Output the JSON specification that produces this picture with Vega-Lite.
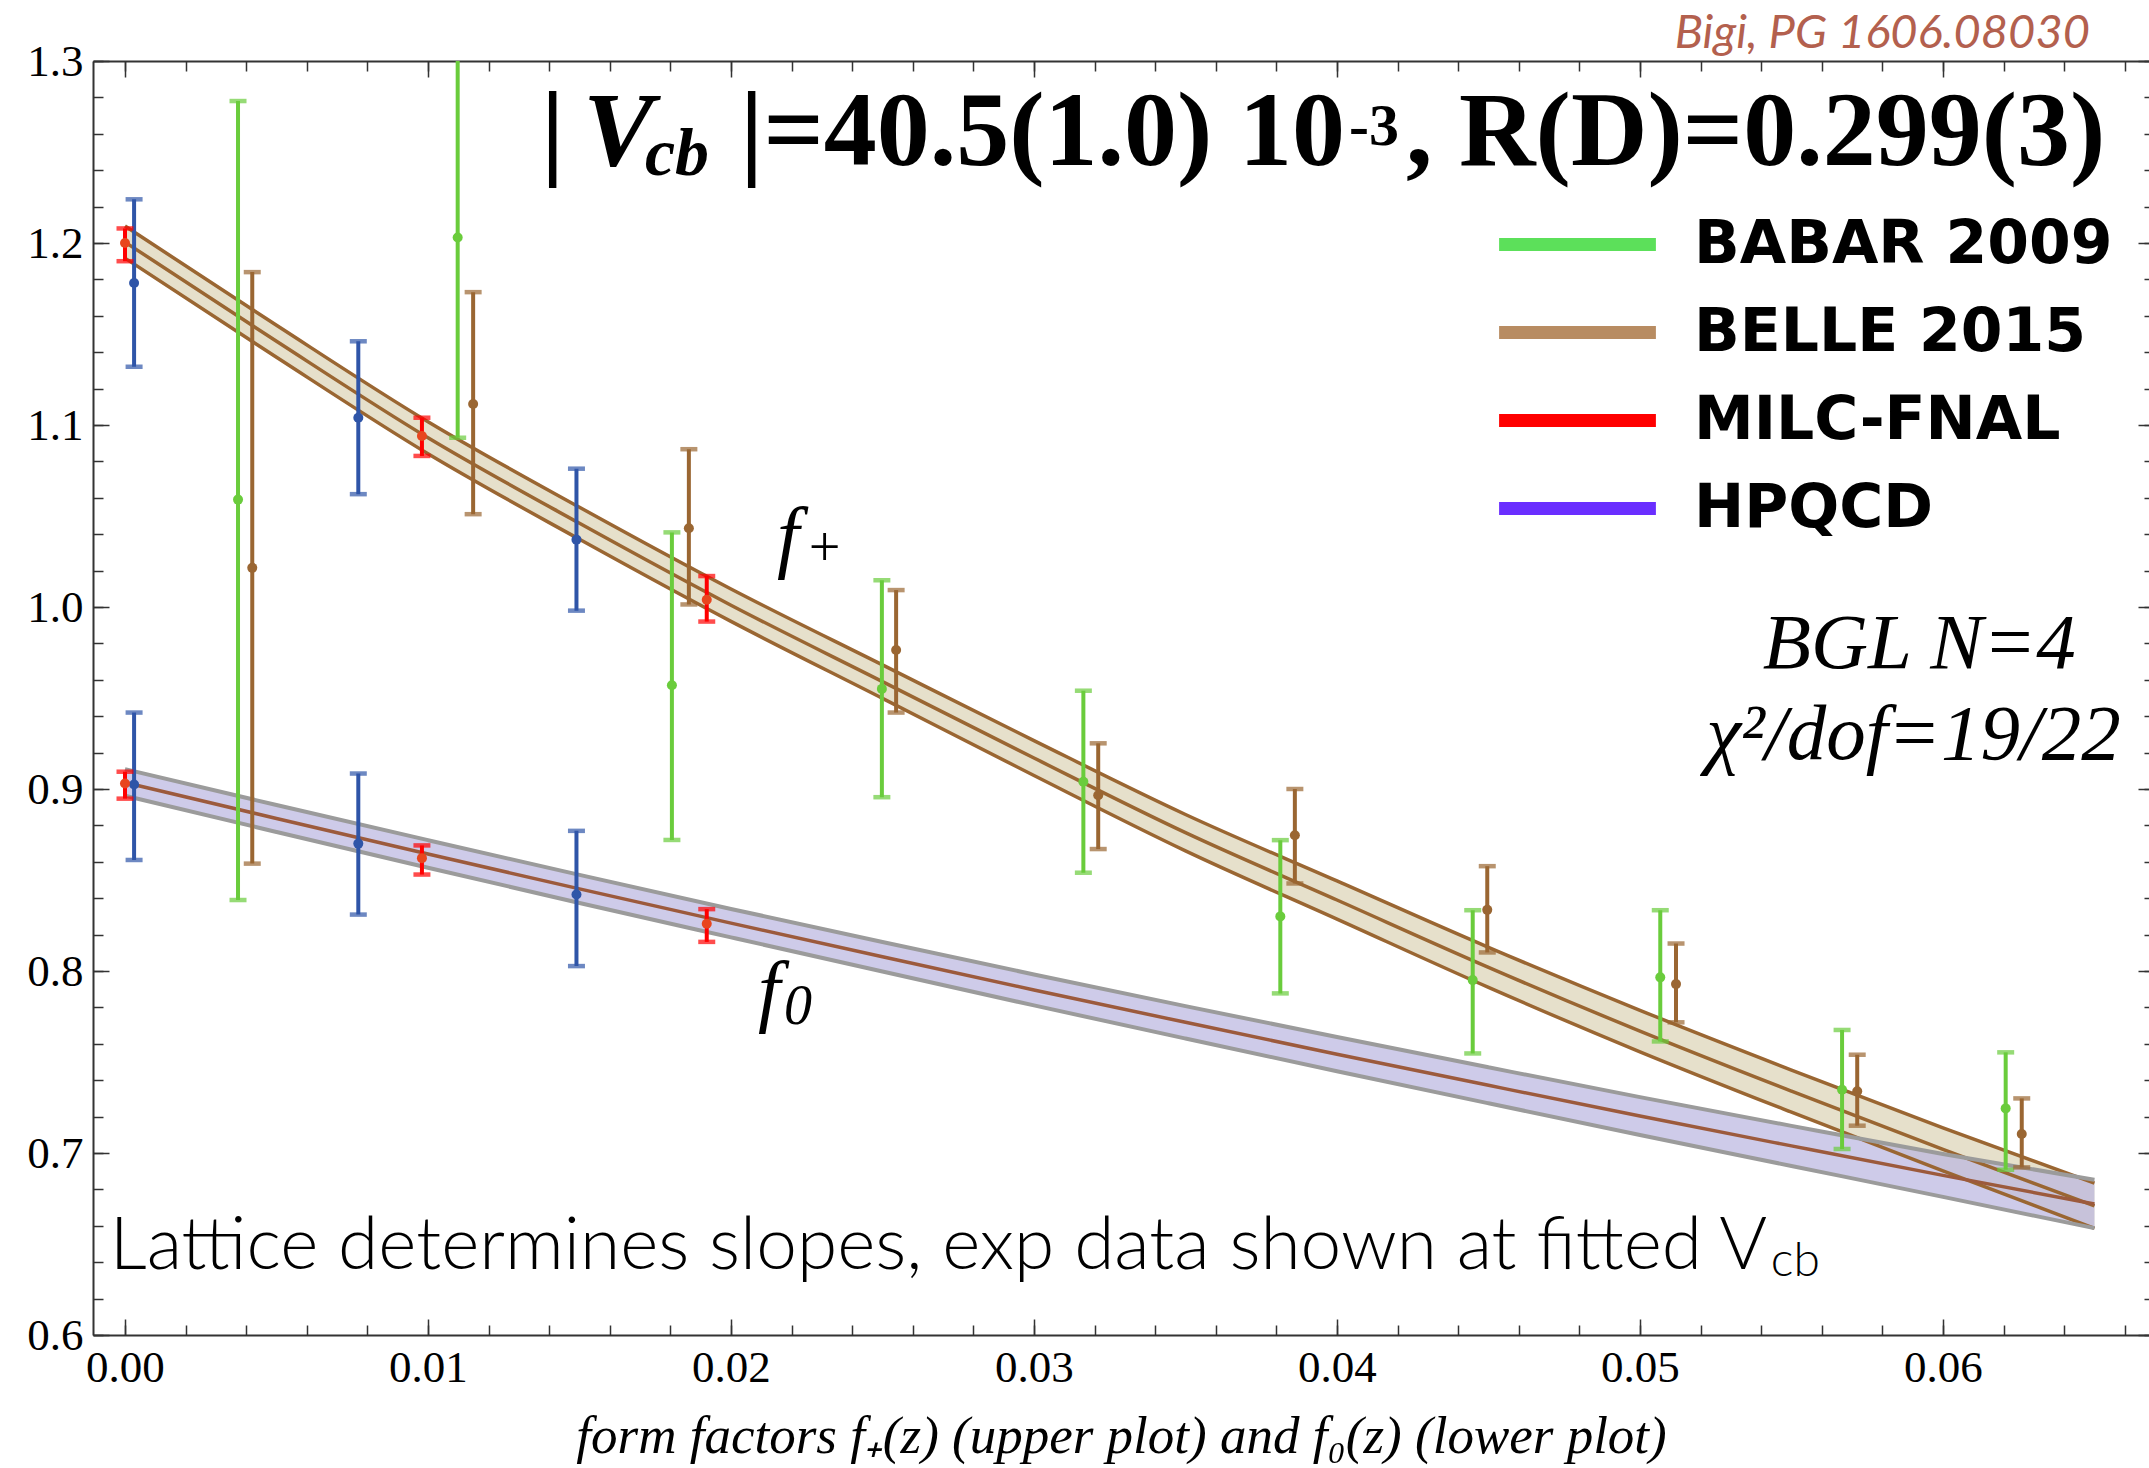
{
  "$schema": "https://vega.github.io/schema/vega-lite/v6.json",
  "width": 2056,
  "height": 1274,
  "autosize": {"type": "none"},
  "padding": {"left": 93, "top": 61, "right": 0, "bottom": 133},
  "background": "white",
  "config": {"view": {"stroke": null}, "axis": {"grid": false, "labelFlush": false, "labelOverlap": false}},
  "datasets": {
    "fp": [
      {"z": 0, "c": 1.2005, "lo": 1.1917, "hi": 1.2093},
      {"z": 0.005, "c": 1.146, "lo": 1.1372, "hi": 1.1548},
      {"z": 0.01, "c": 1.093, "lo": 1.0842, "hi": 1.1018},
      {"z": 0.015, "c": 1.046, "lo": 1.0372, "hi": 1.0548},
      {"z": 0.02, "c": 1.001, "lo": 0.9921, "hi": 1.0099},
      {"z": 0.025, "c": 0.959, "lo": 0.9498, "hi": 0.9682},
      {"z": 0.03, "c": 0.917, "lo": 0.9074, "hi": 0.9266},
      {"z": 0.035, "c": 0.876, "lo": 0.866, "hi": 0.886},
      {"z": 0.04, "c": 0.839, "lo": 0.8285, "hi": 0.8495},
      {"z": 0.045, "c": 0.802, "lo": 0.791, "hi": 0.813},
      {"z": 0.05, "c": 0.767, "lo": 0.7556, "hi": 0.7784},
      {"z": 0.055, "c": 0.734, "lo": 0.7224, "hi": 0.7456},
      {"z": 0.06, "c": 0.702, "lo": 0.6902, "hi": 0.7138},
      {"z": 0.065, "c": 0.671, "lo": 0.6586, "hi": 0.6834}
    ],
    "f0": [
      {"z": 0, "c": 0.9036, "lo": 0.8963, "hi": 0.9109},
      {"z": 0.005, "c": 0.8838, "lo": 0.8764, "hi": 0.8912},
      {"z": 0.01, "c": 0.8643, "lo": 0.8567, "hi": 0.8719},
      {"z": 0.015, "c": 0.8451, "lo": 0.8374, "hi": 0.8528},
      {"z": 0.02, "c": 0.8263, "lo": 0.8185, "hi": 0.8341},
      {"z": 0.025, "c": 0.8078, "lo": 0.7997, "hi": 0.8159},
      {"z": 0.03, "c": 0.7896, "lo": 0.7811, "hi": 0.7981},
      {"z": 0.035, "c": 0.7718, "lo": 0.7629, "hi": 0.7807},
      {"z": 0.04, "c": 0.7543, "lo": 0.7449, "hi": 0.7637},
      {"z": 0.045, "c": 0.7372, "lo": 0.7273, "hi": 0.7471},
      {"z": 0.05, "c": 0.7203, "lo": 0.7099, "hi": 0.7307},
      {"z": 0.055, "c": 0.7039, "lo": 0.6929, "hi": 0.7149},
      {"z": 0.06, "c": 0.6877, "lo": 0.6759, "hi": 0.6995},
      {"z": 0.065, "c": 0.672, "lo": 0.6587, "hi": 0.6853}
    ],
    "pts": [
      {"s": "HPQCD", "ff": "f+", "z": 0.0003, "v": 1.178, "lo": 1.132, "hi": 1.224},
      {"s": "HPQCD", "ff": "f+", "z": 0.0077, "v": 1.104, "lo": 1.062, "hi": 1.146},
      {"s": "HPQCD", "ff": "f+", "z": 0.0149, "v": 1.037, "lo": 0.998, "hi": 1.076},
      {"s": "HPQCD", "ff": "f0", "z": 0.0003, "v": 0.9025, "lo": 0.861, "hi": 0.942},
      {"s": "HPQCD", "ff": "f0", "z": 0.0077, "v": 0.87, "lo": 0.831, "hi": 0.9085},
      {"s": "HPQCD", "ff": "f0", "z": 0.0149, "v": 0.842, "lo": 0.8027, "hi": 0.877},
      {"s": "MILC-FNAL", "ff": "f+", "z": 0.0, "v": 1.2, "lo": 1.19, "hi": 1.208},
      {"s": "MILC-FNAL", "ff": "f+", "z": 0.0098, "v": 1.094, "lo": 1.083, "hi": 1.104},
      {"s": "MILC-FNAL", "ff": "f+", "z": 0.0192, "v": 1.004, "lo": 0.992, "hi": 1.017},
      {"s": "MILC-FNAL", "ff": "f0", "z": 0.0, "v": 0.903, "lo": 0.8947, "hi": 0.9095},
      {"s": "MILC-FNAL", "ff": "f0", "z": 0.0098, "v": 0.862, "lo": 0.853, "hi": 0.869},
      {"s": "MILC-FNAL", "ff": "f0", "z": 0.0192, "v": 0.826, "lo": 0.816, "hi": 0.834},
      {"s": "Babar 2009", "ff": "f+", "z": 0.00373, "v": 1.059, "lo": 0.839, "hi": 1.278},
      {"s": "Babar 2009", "ff": "f+", "z": 0.01098, "v": 1.203, "lo": 1.093, "hi": 1.313},
      {"s": "Babar 2009", "ff": "f+", "z": 0.01805, "v": 0.957, "lo": 0.872, "hi": 1.041},
      {"s": "Babar 2009", "ff": "f+", "z": 0.02498, "v": 0.955, "lo": 0.8955, "hi": 1.0147},
      {"s": "Babar 2009", "ff": "f+", "z": 0.03163, "v": 0.904, "lo": 0.854, "hi": 0.954},
      {"s": "Babar 2009", "ff": "f+", "z": 0.03813, "v": 0.83, "lo": 0.7877, "hi": 0.8719},
      {"s": "Babar 2009", "ff": "f+", "z": 0.04448, "v": 0.795, "lo": 0.7547, "hi": 0.8334},
      {"s": "Babar 2009", "ff": "f+", "z": 0.05067, "v": 0.7965, "lo": 0.7613, "hi": 0.8334},
      {"s": "Babar 2009", "ff": "f+", "z": 0.05667, "v": 0.7348, "lo": 0.7022, "hi": 0.7676},
      {"s": "Babar 2009", "ff": "f+", "z": 0.06207, "v": 0.7245, "lo": 0.6908, "hi": 0.7553},
      {"s": "Belle 2015", "ff": "f+", "z": 0.0042, "v": 1.0215, "lo": 0.859, "hi": 1.184},
      {"s": "Belle 2015", "ff": "f+", "z": 0.01149, "v": 1.1115, "lo": 1.051, "hi": 1.173},
      {"s": "Belle 2015", "ff": "f+", "z": 0.01861, "v": 1.0433, "lo": 1.0014, "hi": 1.0867},
      {"s": "Belle 2015", "ff": "f+", "z": 0.02545, "v": 0.9764, "lo": 0.942, "hi": 1.0093},
      {"s": "Belle 2015", "ff": "f+", "z": 0.03212, "v": 0.8966, "lo": 0.867, "hi": 0.9251},
      {"s": "Belle 2015", "ff": "f+", "z": 0.03861, "v": 0.8746, "lo": 0.8481, "hi": 0.9},
      {"s": "Belle 2015", "ff": "f+", "z": 0.04496, "v": 0.8336, "lo": 0.8102, "hi": 0.8576},
      {"s": "Belle 2015", "ff": "f+", "z": 0.05119, "v": 0.7928, "lo": 0.7718, "hi": 0.8151},
      {"s": "Belle 2015", "ff": "f+", "z": 0.05717, "v": 0.7339, "lo": 0.715, "hi": 0.754},
      {"s": "Belle 2015", "ff": "f+", "z": 0.0626, "v": 0.7104, "lo": 0.6921, "hi": 0.73}
    ],
    "leg": [{"s": "Babar 2009"}, {"s": "Belle 2015"}, {"s": "MILC-FNAL"}, {"s": "HPQCD"}]
  },
  "layer": [
    {
      "data": {"name": "fp"},
      "mark": {"type": "area", "color": "#e6e0cb", "interpolate": "monotone"},
      "encoding": {
        "x": {"field": "z", "type": "quantitative", "scale": {"domain": [-0.001056, 0.0668], "nice": false, "zero": false},
          "axis": {"orient": "bottom", "values": [0, 0.01, 0.02, 0.03, 0.04, 0.05, 0.06], "format": ".2f", "ticks": false, "domain": true, "domainColor": "#333333", "domainWidth": 2, "labelFont": "Liberation Serif", "labelFontSize": 45, "labelColor": "#000000", "labelPadding": 10,
            "title": "form factors f₊(z) (upper plot) and f₀(z) (lower plot)", "titleFont": "Liberation Serif", "titleFontStyle": "italic", "titleFontWeight": "normal", "titleFontSize": 53, "titleColor": "#000000", "titlePadding": 20}},
        "y": {"field": "lo", "type": "quantitative", "scale": {"domain": [0.6, 1.3], "nice": false, "zero": false},
          "axis": {"orient": "left", "values": [0.6, 0.7, 0.8, 0.9, 1.0, 1.1, 1.2, 1.3], "format": ".1f", "ticks": false, "domain": true, "domainColor": "#333333", "domainWidth": 2, "labelFont": "Liberation Serif", "labelFontSize": 45, "labelColor": "#000000", "labelPadding": 10, "title": null}},
        "y2": {"field": "hi"}
      }
    },
    {
      "data": {"name": "f0"},
      "mark": {"type": "area", "color": "#b9b5e0", "opacity": 0.7, "interpolate": "monotone"},
      "encoding": {
        "x": {"field": "z", "type": "quantitative",
          "axis": {"orient": "bottom", "values": [0, 0.01, 0.02, 0.03, 0.04, 0.05, 0.06], "labels": false, "domain": false, "ticks": true, "tickSize": -16, "tickWidth": 1.5, "tickColor": "#333333", "title": null}},
        "y": {"field": "lo", "type": "quantitative",
          "axis": {"orient": "left", "values": [0.6, 0.7, 0.8, 0.9, 1.0, 1.1, 1.2, 1.3], "labels": false, "domain": false, "ticks": true, "tickSize": -16, "tickWidth": 1.5, "tickColor": "#333333", "title": null}},
        "y2": {"field": "hi"}
      }
    },
    {
      "data": {"name": "fp"},
      "mark": {"type": "line", "color": "#9a6632", "strokeWidth": 3.5, "interpolate": "monotone"},
      "encoding": {
        "x": {"field": "z", "type": "quantitative",
          "axis": {"orient": "bottom", "values": [0, 0.002, 0.004, 0.006, 0.008, 0.01, 0.012, 0.014, 0.016, 0.018, 0.02, 0.022, 0.024, 0.026, 0.028, 0.03, 0.032, 0.034, 0.036, 0.038, 0.04, 0.042, 0.044, 0.046, 0.048, 0.05, 0.052, 0.054, 0.056, 0.058, 0.06, 0.062, 0.064, 0.066], "labels": false, "domain": false, "ticks": true, "tickSize": -10, "tickWidth": 1.5, "tickColor": "#333333", "title": null}},
        "y": {"field": "hi", "type": "quantitative",
          "axis": {"orient": "left", "values": [0.6, 0.62, 0.64, 0.66, 0.68, 0.7, 0.72, 0.74, 0.76, 0.78, 0.8, 0.82, 0.84, 0.86, 0.88, 0.9, 0.92, 0.94, 0.96, 0.98, 1.0, 1.02, 1.04, 1.06, 1.08, 1.1, 1.12, 1.14, 1.16, 1.18, 1.2, 1.22, 1.24, 1.26, 1.28, 1.3], "labels": false, "domain": false, "ticks": true, "tickSize": -10, "tickWidth": 1.5, "tickColor": "#333333", "title": null}}
      }
    },
    {
      "data": {"name": "fp"},
      "mark": {"type": "line", "color": "#9a6632", "strokeWidth": 3.5, "interpolate": "monotone"},
      "encoding": {
        "x": {"field": "z", "type": "quantitative",
          "axis": {"orient": "top", "values": [0, 0.01, 0.02, 0.03, 0.04, 0.05, 0.06], "labels": false, "domain": true, "domainColor": "#333333", "domainWidth": 2, "ticks": true, "tickSize": -16, "tickWidth": 1.5, "tickColor": "#333333", "title": null}},
        "y": {"field": "c", "type": "quantitative",
          "axis": {"orient": "right", "offset": 5, "values": [0.6, 0.7, 0.8, 0.9, 1.0, 1.1, 1.2, 1.3], "labels": false, "domain": true, "domainColor": "#333333", "domainWidth": 2, "ticks": true, "tickSize": -16, "tickWidth": 1.5, "tickColor": "#333333", "title": null}}
      }
    },
    {
      "data": {"name": "fp"},
      "mark": {"type": "line", "color": "#9a6632", "strokeWidth": 3.5, "interpolate": "monotone"},
      "encoding": {
        "x": {"field": "z", "type": "quantitative",
          "axis": {"orient": "top", "values": [0, 0.002, 0.004, 0.006, 0.008, 0.01, 0.012, 0.014, 0.016, 0.018, 0.02, 0.022, 0.024, 0.026, 0.028, 0.03, 0.032, 0.034, 0.036, 0.038, 0.04, 0.042, 0.044, 0.046, 0.048, 0.05, 0.052, 0.054, 0.056, 0.058, 0.06, 0.062, 0.064, 0.066], "labels": false, "domain": false, "ticks": true, "tickSize": -10, "tickWidth": 1.5, "tickColor": "#333333", "title": null}},
        "y": {"field": "lo", "type": "quantitative",
          "axis": {"orient": "right", "offset": 5, "values": [0.6, 0.62, 0.64, 0.66, 0.68, 0.7, 0.72, 0.74, 0.76, 0.78, 0.8, 0.82, 0.84, 0.86, 0.88, 0.9, 0.92, 0.94, 0.96, 0.98, 1.0, 1.02, 1.04, 1.06, 1.08, 1.1, 1.12, 1.14, 1.16, 1.18, 1.2, 1.22, 1.24, 1.26, 1.28, 1.3], "labels": false, "domain": false, "ticks": true, "tickSize": -10, "tickWidth": 1.5, "tickColor": "#333333", "title": null}}
      }
    },
    {
      "data": {"name": "f0"},
      "mark": {"type": "line", "color": "#9b9b9b", "strokeWidth": 4, "interpolate": "monotone"},
      "encoding": {"x": {"field": "z", "type": "quantitative", "axis": null}, "y": {"field": "hi", "type": "quantitative", "axis": null}}
    },
    {
      "data": {"name": "f0"},
      "mark": {"type": "line", "color": "#9b9b9b", "strokeWidth": 4, "interpolate": "monotone"},
      "encoding": {"x": {"field": "z", "type": "quantitative", "axis": null}, "y": {"field": "lo", "type": "quantitative", "axis": null}}
    },
    {
      "data": {"name": "f0"},
      "mark": {"type": "line", "color": "#9c5a3c", "strokeWidth": 3.5, "interpolate": "monotone"},
      "encoding": {"x": {"field": "z", "type": "quantitative", "axis": null}, "y": {"field": "c", "type": "quantitative", "axis": null}}
    },
    {
      "data": {"name": "pts"},
      "mark": {"type": "rule", "strokeWidth": 4, "clip": true},
      "encoding": {
        "x": {"field": "z", "type": "quantitative", "axis": null},
        "y": {"field": "lo", "type": "quantitative", "axis": null},
        "y2": {"field": "hi"},
        "color": {"field": "s", "type": "nominal", "scale": {"domain": ["HPQCD", "MILC-FNAL", "Belle 2015", "Babar 2009"], "range": ["#2f55a8", "#ff0000", "#9a6632", "#6acc3c"]}, "legend": null}
      }
    },
    {
      "data": {"name": "pts"},
      "mark": {"type": "tick", "orient": "horizontal", "size": 17, "thickness": 4.5, "clip": true},
      "encoding": {
        "x": {"field": "z", "type": "quantitative", "axis": null},
        "y": {"field": "lo", "type": "quantitative", "axis": null},
        "color": {"field": "s", "type": "nominal", "legend": null}
      }
    },
    {
      "data": {"name": "pts"},
      "mark": {"type": "tick", "orient": "horizontal", "size": 17, "thickness": 4.5, "clip": true},
      "encoding": {
        "x": {"field": "z", "type": "quantitative", "axis": null},
        "y": {"field": "hi", "type": "quantitative", "axis": null},
        "color": {"field": "s", "type": "nominal", "legend": null}
      }
    },
    {
      "data": {"name": "pts"},
      "mark": {"type": "point", "filled": true, "size": 100, "opacity": 1, "shape": "circle", "clip": true},
      "encoding": {
        "x": {"field": "z", "type": "quantitative", "axis": null},
        "y": {"field": "v", "type": "quantitative", "axis": null},
        "fill": {"field": "s", "type": "nominal", "scale": {"domain": ["MILC-FNAL", "HPQCD", "Babar 2009", "Belle 2015"], "range": ["#e8461e", "#2f55a8", "#6acc3c", "#9a6632"]}, "legend": null}
      }
    },
    {
      "data": {"values": [
        {"z": 0.01373, "v": 1.2426, "t": "|"},
        {"z": 0.0203, "v": 1.2426, "t": "|=40.5(1.0) 10"},
        {"z": 0.04228, "v": 1.2426, "t": ", R(D)=0.299(3)"}
      ]},
      "mark": {"type": "text", "font": "Liberation Serif", "fontWeight": "bold", "fontSize": 106, "align": "left", "baseline": "alphabetic", "color": "#000000"},
      "encoding": {"x": {"field": "z", "type": "quantitative", "axis": null}, "y": {"field": "v", "type": "quantitative", "axis": null}, "text": {"field": "t"}}
    },
    {
      "data": {"values": [{"z": 0.01512, "v": 1.2426, "t": "V"}]},
      "mark": {"type": "text", "font": "Liberation Serif", "fontWeight": "bold", "fontStyle": "italic", "fontSize": 106, "align": "left", "baseline": "alphabetic", "color": "#000000"},
      "encoding": {"x": {"field": "z", "type": "quantitative", "axis": null}, "y": {"field": "v", "type": "quantitative", "axis": null}, "text": {"field": "t"}}
    },
    {
      "data": {"values": [{"z": 0.01716, "v": 1.2371, "t": "cb"}]},
      "mark": {"type": "text", "font": "Liberation Serif", "fontWeight": "bold", "fontStyle": "italic", "fontSize": 68, "align": "left", "baseline": "alphabetic", "color": "#000000"},
      "encoding": {"x": {"field": "z", "type": "quantitative", "axis": null}, "y": {"field": "v", "type": "quantitative", "axis": null}, "text": {"field": "t"}}
    },
    {
      "data": {"values": [{"z": 0.0404, "v": 1.2541, "t": "-3"}]},
      "mark": {"type": "text", "font": "Liberation Serif", "fontWeight": "bold", "fontSize": 60, "align": "left", "baseline": "alphabetic", "color": "#000000"},
      "encoding": {"x": {"field": "z", "type": "quantitative", "axis": null}, "y": {"field": "v", "type": "quantitative", "axis": null}, "text": {"field": "t"}}
    },
    {
      "data": {"values": [{"z": 0.06485, "v": 1.3074, "t": "Bigi, PG 1606.08030"}]},
      "mark": {"type": "text", "font": "Lato", "fontStyle": "italic", "fontSize": 47, "align": "right", "baseline": "alphabetic", "color": "#b3604e"},
      "encoding": {"x": {"field": "z", "type": "quantitative", "axis": null}, "y": {"field": "v", "type": "quantitative", "axis": null}, "text": {"field": "t"}}
    },
    {
      "data": {"values": [
        {"z": 0.02152, "v": 1.0242, "t": "f"},
        {"z": 0.02089, "v": 0.7749, "t": "f"}
      ]},
      "mark": {"type": "text", "font": "Liberation Serif", "fontStyle": "italic", "fontSize": 80, "align": "left", "baseline": "alphabetic", "color": "#000000"},
      "encoding": {"x": {"field": "z", "type": "quantitative", "axis": null}, "y": {"field": "v", "type": "quantitative", "axis": null}, "text": {"field": "t"}}
    },
    {
      "data": {"values": [
        {"z": 0.02245, "v": 1.0224, "t": "+"},
        {"z": 0.02175, "v": 0.7708, "t": "0"}
      ]},
      "mark": {"type": "text", "font": "Liberation Serif", "fontStyle": "italic", "fontSize": 56, "align": "left", "baseline": "alphabetic", "color": "#000000"},
      "encoding": {"x": {"field": "z", "type": "quantitative", "axis": null}, "y": {"field": "v", "type": "quantitative", "axis": null}, "text": {"field": "t"}}
    },
    {
      "data": {"values": [
        {"z": 0.05922, "v": 0.9667, "t": "BGL N=4"},
        {"z": 0.05903, "v": 0.9164, "t": "χ²/dof=19/22"}
      ]},
      "mark": {"type": "text", "font": "Liberation Serif", "fontStyle": "italic", "fontSize": 79, "align": "center", "baseline": "alphabetic", "color": "#000000"},
      "encoding": {"x": {"field": "z", "type": "quantitative", "axis": null}, "y": {"field": "v", "type": "quantitative", "axis": null}, "text": {"field": "t"}}
    },
    {
      "data": {"values": [{"z": -0.000505, "v": 0.636, "t": "Lattice determines slopes, exp data shown at fitted V"}]},
      "mark": {"type": "text", "font": "Lato", "fontWeight": 300, "fontSize": 73, "align": "left", "baseline": "alphabetic", "color": "#000000"},
      "encoding": {"x": {"field": "z", "type": "quantitative", "axis": null}, "y": {"field": "v", "type": "quantitative", "axis": null}, "text": {"field": "t"}}
    },
    {
      "data": {"values": [{"z": 0.05432, "v": 0.6326, "t": "cb"}]},
      "mark": {"type": "text", "font": "Lato", "fontWeight": 300, "fontSize": 48, "align": "left", "baseline": "alphabetic", "color": "#000000"},
      "encoding": {"x": {"field": "z", "type": "quantitative", "axis": null}, "y": {"field": "v", "type": "quantitative", "axis": null}, "text": {"field": "t"}}
    },
    {
      "data": {"name": "leg"},
      "mark": {"type": "point", "filled": false, "opacity": 0},
      "encoding": {
        "stroke": {"field": "s", "type": "nominal",
          "scale": {"domain": ["Babar 2009", "Belle 2015", "MILC-FNAL", "HPQCD"], "range": ["#5ce05a", "#b88c62", "#ff0000", "#6a2eff"]},
          "legend": {"orient": "none", "legendX": 1443, "legendY": 142, "title": null, "padding": 0, "symbolType": "M-2.24,0H2.24", "symbolSize": 4900, "symbolStrokeWidth": 13, "symbolOpacity": 1, "symbolFillColor": "transparent", "symbolOffset": 0, "labelFont": "DejaVu Sans", "labelFontSize": 60, "labelFontWeight": "bold", "labelColor": "#000000", "labelOffset": 75, "labelLimit": 700, "rowPadding": 16, "labelExpr": "upper(datum.label)"}}
      }
    }
  ],
  "resolve": {"axis": {"x": "independent", "y": "independent"}}
}
